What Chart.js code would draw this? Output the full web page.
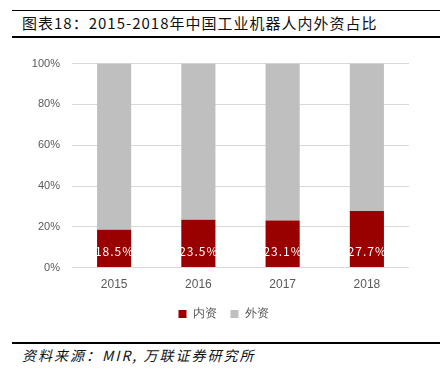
<!DOCTYPE html>
<html>
<head>
<meta charset="utf-8">
<script src="https://cdn.jsdelivr.net/npm/chart.js@4/dist/chart.umd.min.js"></script>
<style>
  body { margin: 0; background: #fff; width: 440px; height: 381px; position: relative; overflow: hidden; font-family: "Noto Sans CJK SC", sans-serif; }
  .top-line { position: absolute; left: 12px; right: 0; top: 10px; border-top: 1px solid #000; }
  .title { position: absolute; left: 22px; top: 12px; font-size: 15px; letter-spacing: 1px; color: #111; line-height: 22px; }
  .title-line { position: absolute; left: 12px; right: 0; top: 36px; border-top: 2px solid #000; }
  .chart-box { position: absolute; left: 0; top: 45px; width: 440px; height: 291px; }
  .foot-line { position: absolute; left: 12px; right: 0; top: 342px; border-top: 2px solid #000; }
  .source { position: absolute; left: 22px; top: 345px; font-size: 14px; letter-spacing: 2px; font-style: italic; color: #111; line-height: 20px; }
</style>
</head>
<body>
<div class="top-line"></div>
<div class="title">图表18：2015-2018年中国工业机器人内外资占比</div>
<div class="title-line"></div>
<div class="chart-box"><canvas id="myChart"></canvas></div>
<div class="foot-line"></div>
<div class="source">资料来源：MIR, 万联证券研究所</div>
<script>
const years = ['2015', '2016', '2017', '2018'];
const domestic = [18.5, 23.5, 23.1, 27.7];
const foreign = [81.5, 76.5, 76.9, 72.3];
const yTicks = [0, 20, 40, 60, 80, 100];

// white value labels near bar base
const barLabels = {
  id: 'barLabels',
  afterDatasetsDraw(chart) {
    const ctx = chart.ctx;
    const meta = chart.getDatasetMeta(0);
    const base = chart.scales.y.getPixelForValue(0);
    ctx.save();
    ctx.fillStyle = '#fff';
    ctx.font = '12px "Noto Sans CJK SC", sans-serif';
    ctx.letterSpacing = '1px';
    ctx.textAlign = 'center';
    ctx.textBaseline = 'middle';
    meta.data.forEach((bar, i) => {
      ctx.fillText(domestic[i].toFixed(1) + '%', bar.x + 0.5, base - 16);
    });
    ctx.restore();
  }
};

// nudge legend a bit right, like the original
const legendShift = {
  id: 'legendShift',
  afterLayout(chart) {
    chart.legend.left += 14;
    chart.legend.right += 14;
  }
};

new Chart(document.getElementById('myChart'), {
  type: 'bar',
  data: {
    labels: years,
    datasets: [
      { label: '内资', data: domestic, backgroundColor: '#990000' },
      { label: '外资', data: foreign, backgroundColor: '#bfbfbf' }
    ]
  },
  options: {
    responsive: true,
    maintainAspectRatio: false,
    animation: false,
    layout: { padding: { left: 10, right: 31, top: 9, bottom: 6 } },
    datasets: { bar: { categoryPercentage: 1, barPercentage: 0.405 } },
    plugins: {
      legend: {
        position: 'bottom',
        labels: { boxWidth: 8, boxHeight: 8, color: '#595959', font: { size: 12 }, padding: 14 }
      },
      tooltip: { enabled: false }
    },
    scales: {
      x: {
        stacked: true,
        grid: { display: false },
        border: { display: false },
        ticks: { color: '#595959', font: { size: 12 }, padding: 2 }
      },
      y: {
        stacked: true,
        min: 0,
        max: 100,
        afterBuildTicks: (axis) => { axis.ticks = yTicks.map(v => ({ value: v })); },
        afterFit: (axis) => { axis.width = 62; },
        grid: { color: '#d9d9d9', drawTicks: false },
        border: { display: false },
        ticks: { color: '#595959', font: { size: 11 }, padding: 12, callback: (v) => v + '%' }
      }
    }
  },
  plugins: [barLabels, legendShift]
});
</script>
</body>
</html>
